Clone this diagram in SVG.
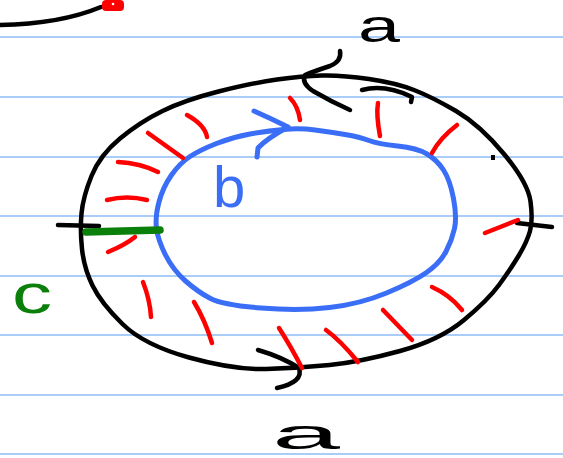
<svg xmlns="http://www.w3.org/2000/svg" width="563" height="458" viewBox="0 0 563 458">
<style>
.rule{stroke:#a9cdf7;stroke-width:2;fill:none}
.ink{fill:none;stroke-linecap:round;stroke-linejoin:round}
.blk{stroke:#000;stroke-width:4.5}
.blu{stroke:#3b6ef6;stroke-width:5}
.red{stroke:#ff0000;stroke-width:4.5}
.grn{stroke:#0a7f0a;stroke-width:7.5}
.lbl{font-family:"Liberation Sans",Arial,sans-serif}
</style>
<rect width="563" height="458" fill="#fff"/>
<g id="ruled-lines">
<line class="rule" x1="0" y1="37" x2="563" y2="37"/>
<line class="rule" x1="0" y1="97" x2="563" y2="97"/>
<line class="rule" x1="0" y1="157" x2="563" y2="157"/>
<line class="rule" x1="0" y1="216" x2="563" y2="216"/>
<line class="rule" x1="0" y1="276" x2="563" y2="276"/>
<line class="rule" x1="0" y1="335" x2="563" y2="335"/>
<line class="rule" x1="0" y1="395" x2="563" y2="395"/>
<line class="rule" x1="0" y1="454" x2="563" y2="454"/>
</g>
<g id="corner-stroke">
<path class="ink blk" d="M0,25 Q60,24 101,7"/>
<rect x="102" y="0" width="22" height="11" rx="4" fill="#ff0000"/>
<circle cx="113" cy="4" r="1.3" fill="#fff"/>
</g>
<g id="outer-loop">
<path class="ink blk" d="M322,75.5 Q342,75 369,79 Q396,83 414,90 Q432,97 456,111 Q480,125 504,154 Q528,183 530.5,201.5 Q533,220 530,231 Q527,242 518.5,256 Q510,270 499,285 Q488,300 464,320 Q440,340 400,351 Q360,362 329.5,365 Q299,368 266.5,369 Q234,370 189,357.5 Q144,345 122.5,324 Q101,303 92.5,285.5 Q84,268 82,249 Q80,230 81.5,213.5 Q83,197 91.5,176 Q100,155 120,138.5 Q140,122 162.5,111 Q185,100 218.5,91.5 Q252,83 277,79.5 Q302,76 322,75.5 Z"/>
<path class="ink blk" stroke-width="5" d="M340,51 Q342,61 330,66 Q312,72 305,75 Q301,83 313,91 Q330,101 350,110"/>
<path class="ink blk" d="M362,90 Q385,84 412,97 L411,102"/>
<path class="ink blk" stroke-width="5.5" d="M258,350 Q282,357 299,368 Q304,382 277,388"/>
<line class="ink blk" stroke-width="6" x1="58" y1="225" x2="99" y2="226"/>
<path class="ink blk" stroke-width="6" d="M517,223 L552,227"/>
<rect x="491" y="155" width="4" height="5" fill="#000"/>
</g>
<g id="inner-loop">
<path class="ink blu" d="M283.5,129.5 Q300,128 315,130 Q330,132 345,134.5 Q360,137 369,140.5 Q378,144 397.5,146 Q417,148 427,154 Q437,160 443.5,170 Q450,180 453.5,198.5 Q457,217 454.5,228.5 Q452,240 446,251.5 Q440,263 426.5,272.5 Q413,282 386.5,293 Q360,304 329.5,307.5 Q299,311 261,308 Q223,305 210.5,298.5 Q198,292 185.5,281 Q173,270 165.5,255 Q158,240 156.5,228.5 Q155,217 159,202 Q163,187 171.5,175 Q180,163 190,156.5 Q200,150 216.5,143.5 Q233,137 250,134 Q267,131 283.5,129.5 Z"/>
<path class="ink blu" d="M254,111 Q270,118 288,127 Q266,139 258,148 L257,157"/>
</g>
<g id="hatching">
<path class="ink red" d="M290,98 Q298,106 300,120"/>
<path class="ink red" d="M378,103 Q376,115 380,136"/>
<path class="ink red" d="M457,125 Q440,138 432,153"/>
<path class="ink red" d="M187,115 Q205,125 207,137"/>
<path class="ink red" d="M148,133 L183,158"/>
<path class="ink red" d="M118,162 Q140,163 158,172"/>
<path class="ink red" d="M107,200 Q127,195 147,200"/>
<path class="ink red" d="M108,252 Q125,245 135,237"/>
<path class="ink red" d="M143,282 Q150,300 151,317"/>
<path class="ink red" d="M194,302 Q205,320 212,343"/>
<path class="ink red" d="M279,328 Q290,345 302,368"/>
<path class="ink red" d="M326,330 Q340,340 358,362"/>
<path class="ink red" d="M383,310 L412,340"/>
<path class="ink red" d="M432,287 Q450,295 462,310"/>
<path class="ink red" d="M485,233 L518,220"/>
</g>
<g id="cut">
<line class="ink grn" x1="86" y1="232" x2="160" y2="230"/>
</g>
<g id="labels">
<text class="lbl" x="358" y="42" font-size="46" textLength="42" lengthAdjust="spacingAndGlyphs" fill="#000">a</text>
<text class="lbl" x="213" y="207" font-size="58" fill="#3b6ef6">b</text>
<text class="lbl" x="12" y="313" font-size="56" textLength="40" lengthAdjust="spacingAndGlyphs" fill="#0a7f0a">c</text>
<text class="lbl" x="272" y="449" font-size="42" textLength="68" lengthAdjust="spacingAndGlyphs" fill="#000">a</text>
</g>
</svg>
